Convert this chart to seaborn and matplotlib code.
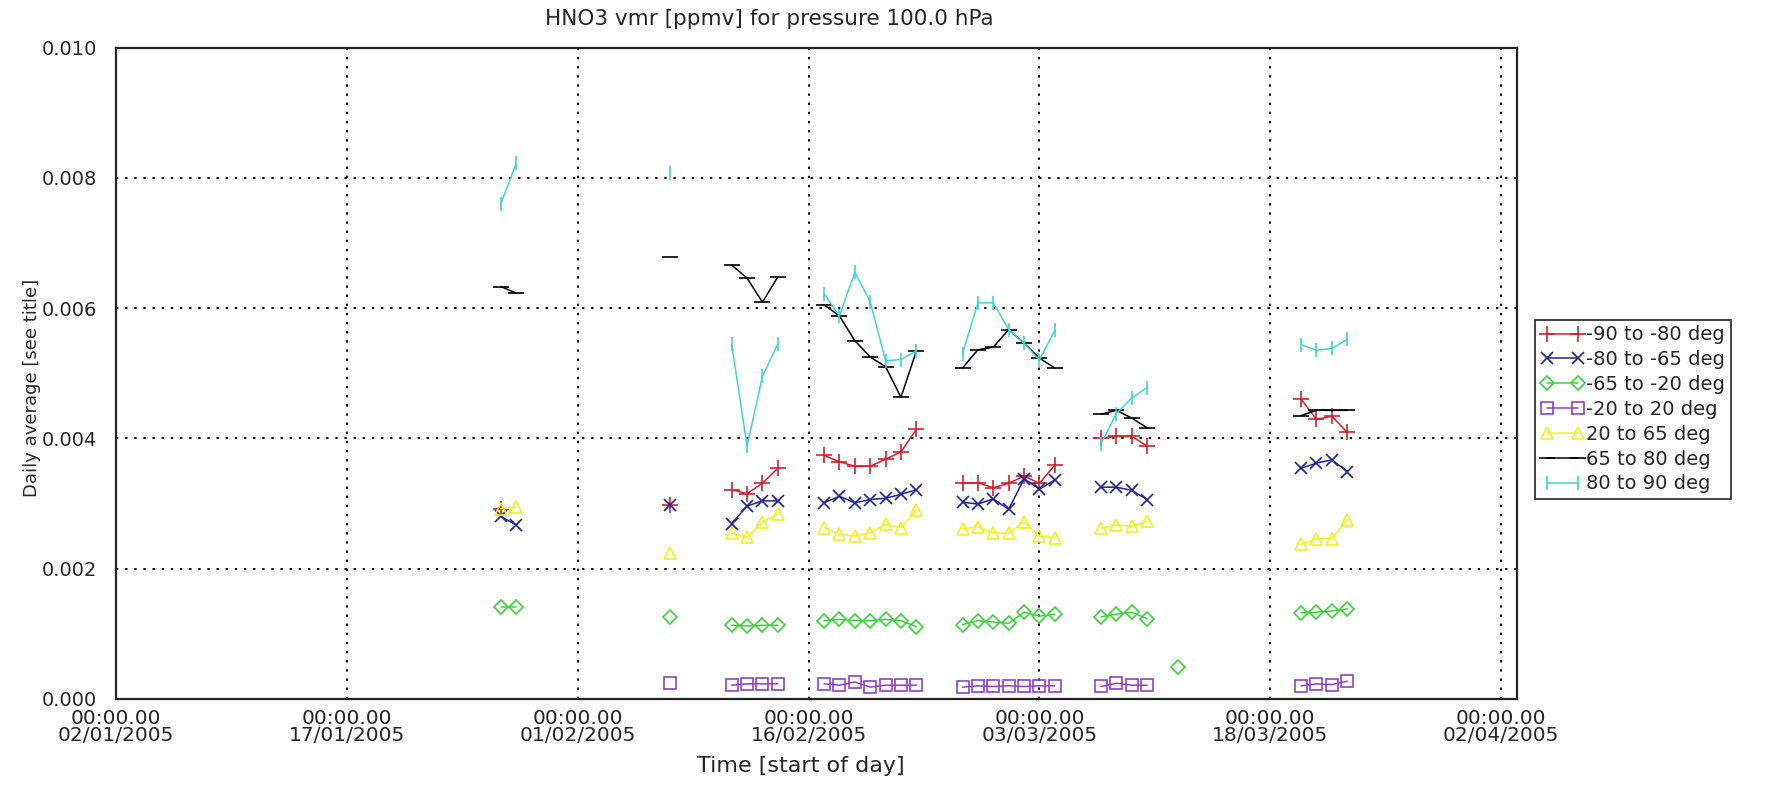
import matplotlib
matplotlib.use("Agg")
import matplotlib.pyplot as plt
from matplotlib.lines import Line2D
import numpy as np
import pandas as pd
import seaborn as sns

nan = np.nan

# days that have a daily average
days = ["2005-01-27", "2005-01-28",
        "2005-02-07",
        "2005-02-11", "2005-02-12", "2005-02-13", "2005-02-14",
        "2005-02-17", "2005-02-18", "2005-02-19", "2005-02-20", "2005-02-21", "2005-02-22", "2005-02-23",
        "2005-02-26", "2005-02-27", "2005-02-28", "2005-03-01", "2005-03-02", "2005-03-03", "2005-03-04",
        "2005-03-07", "2005-03-08", "2005-03-09", "2005-03-10",
        "2005-03-12",
        "2005-03-20", "2005-03-21", "2005-03-22", "2005-03-23"]

# latitude bands
bands = ["-90 to -80 deg", "-80 to -65 deg", "-65 to -20 deg", "-20 to 20 deg",
         "20 to 65 deg", "65 to 80 deg", "80 to 90 deg"]

band_m90_m80 = [0.00292, nan,
                0.00297,
                0.00321, 0.00315, 0.00331, 0.00354,
                0.00374, 0.00364, 0.00357, 0.00357, 0.00368, 0.00379, 0.00414,
                0.00331, 0.00332, 0.00324, 0.00331, 0.00342, 0.00331, 0.00359,
                0.00400, 0.00403, 0.00403, 0.00388,
                nan,
                0.00460, 0.00429, 0.00434, 0.00409]
band_m80_m65 = [0.00280, 0.00267,
                0.00297,
                0.00269, 0.00296, 0.00304, 0.00304,
                0.00301, 0.00311, 0.00301, 0.00306, 0.00308, 0.00314, 0.00321,
                0.00302, 0.00299, 0.00307, 0.00291, 0.00338, 0.00322, 0.00336,
                0.00325, 0.00325, 0.00320, 0.00306,
                nan,
                0.00354, 0.00362, 0.00367, 0.00349]
band_m65_m20 = [0.00141, 0.00141,
                0.00126,
                0.00113, 0.00112, 0.00113, 0.00113,
                0.00120, 0.00122, 0.00120, 0.00120, 0.00122, 0.00120, 0.00111,
                0.00114, 0.00120, 0.00118, 0.00116, 0.00133, 0.00127, 0.00130,
                0.00126, 0.00130, 0.00133, 0.00123,
                0.00049,
                0.00132, 0.00133, 0.00135, 0.00138]
band_m20_20 = [nan, nan,
               0.00024,
               0.00021, 0.00023, 0.00023, 0.00023,
               0.00023, 0.00021, 0.00026, 0.00018, 0.00021, 0.00021, 0.00021,
               0.00018, 0.00020, 0.00019, 0.00020, 0.00019, 0.00020, 0.00020,
               0.00019, 0.00024, 0.00021, 0.00021,
               nan,
               0.00020, 0.00023, 0.00022, 0.00027]
band_20_65 = [0.00292, 0.00294,
              0.00224,
              0.00254, 0.00248, 0.00271, 0.00284,
              0.00263, 0.00253, 0.00250, 0.00255, 0.00268, 0.00263, 0.00290,
              0.00261, 0.00264, 0.00255, 0.00254, 0.00272, 0.00250, 0.00247,
              0.00262, 0.00267, 0.00265, 0.00273,
              nan,
              0.00237, 0.00246, 0.00246, 0.00275]
band_65_80 = [0.00633, 0.00623,
              0.00679,
              0.00666, 0.00646, 0.00609, 0.00648,
              0.00605, 0.00588, 0.00550, 0.00525, 0.00510, 0.00463, 0.00534,
              0.00508, 0.00536, 0.00540, 0.00567, 0.00546, 0.00523, 0.00508,
              0.00437, 0.00443, 0.00431, 0.00416,
              nan,
              0.00435, 0.00443, 0.00443, 0.00443]
band_80_90 = [0.00760, 0.00822,
              0.00807,
              0.00545, 0.00388, 0.00495, 0.00545,
              0.00622, 0.00588, 0.00655, 0.00610, 0.00519, 0.00521, 0.00534,
              0.00530, 0.00608, 0.00608, 0.00567, 0.00546, 0.00520, 0.00566,
              0.00392, 0.00438, 0.00462, 0.00478,
              nan,
              0.00544, 0.00535, 0.00538, 0.00552]

tick_days = ["2005-01-02", "2005-01-17", "2005-02-01", "2005-02-16",
             "2005-03-03", "2005-03-18", "2005-04-02"]
y_ticks = [0.000, 0.002, 0.004, 0.006, 0.008, 0.010]

all_values = [band_m90_m80, band_m80_m65, band_m65_m20, band_m20_20,
              band_20_65, band_65_80, band_80_90]
colors = ["#d4202c", "#20209a", "#38d438", "#9040c8", "#f4f020", "#000000", "#40d4d4"]
markers = ["+", "x", "D", "s", "^", "_", "|"]
msizes = [11, 9, 7, 8, 9, 11, 10]

# long table, with a segment id so only consecutive days get joined
dates = pd.to_datetime(days)
seg = (pd.Series(dates).diff() != pd.Timedelta(days=1)).cumsum().values
frames = []
for b, v in zip(bands, all_values):
    frames.append(pd.DataFrame({"date": dates, "value": v, "band": b, "seg": seg}))
df = pd.concat(frames).dropna()

sns.set_style("white")
plt.rcParams["font.family"] = ["DejaVu Sans"]

fig = plt.figure(figsize=(17.75, 7.87), dpi=100)
ax = fig.add_axes([0.0654, 0.112, 0.789, 0.8276])

for b, c, m, ms in zip(bands, colors, markers, msizes):
    sub = df[df["band"] == b]
    sns.lineplot(data=sub, x="date", y="value", units="seg", estimator=None,
                 color=c, marker=m, ms=ms, mec=c, mfc="none", mew=1.2,
                 lw=1.1, ax=ax, legend=False)

ax.set_xlim(pd.Timestamp("2005-01-02"), pd.Timestamp("2005-04-03"))
ax.set_ylim(0, 0.010)

ticks = pd.to_datetime(tick_days)
ax.set_xticks(ticks)
ax.set_xticklabels(["00:00.00\n" + t.strftime("%d/%m/%Y") for t in ticks],
                   fontsize=14.5, linespacing=0.9)
ax.set_yticks(y_ticks)
ax.set_yticklabels(["%.3f" % t for t in y_ticks], fontsize=14)
ax.tick_params(axis="x", length=0, pad=7)
ax.tick_params(axis="y", length=0, pad=14)

ax.grid(True, color="black", linestyle=(0, (1.2, 3.5)), linewidth=1.4)
for s in ax.spines.values():
    s.set_visible(True)
    s.set_color("#222222")
    s.set_linewidth(1.6)

ax.set_title("HNO3 vmr [ppmv] for pressure 100.0 hPa", fontsize=15.5, pad=16, x=0.4665)
ax.set_xlabel("Time [start of day]", fontsize=16, labelpad=8, x=0.489)
ax.set_ylabel("Daily average [see title]", fontsize=13, labelpad=0, y=0.477)

handles = [Line2D([0], [0], color=c, marker=m, ms=ms, mec=c, mfc="none",
                  mew=1.2, lw=1.1)
           for c, m, ms in zip(colors, markers, msizes)]
leg = fig.legend(handles, bands, loc="upper left", bbox_to_anchor=(0.865, 0.594),
                 fontsize=14, frameon=True, fancybox=False, numpoints=2,
                 handlelength=2.2, handletextpad=0.1, labelspacing=0.3,
                 borderpad=0.3, borderaxespad=0)
leg.get_frame().set_edgecolor("black")
leg.get_frame().set_linewidth(1.3)

fig.savefig("out.png", dpi=100)
